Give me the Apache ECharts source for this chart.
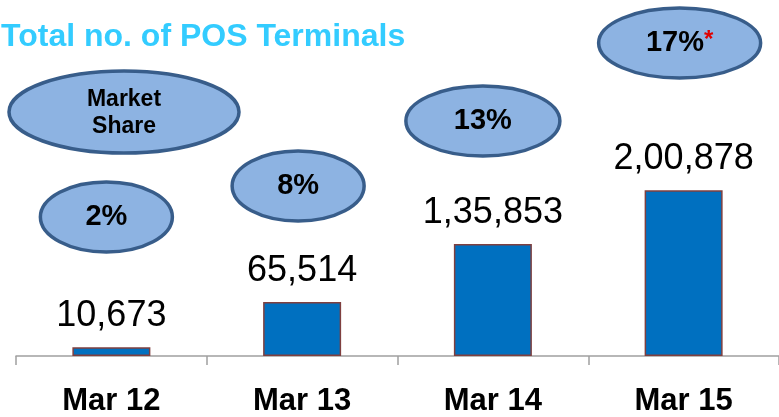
<!DOCTYPE html>
<html>
<head>
<meta charset="utf-8">
<title>Total no. of POS Terminals</title>
<script src="https://cdn.jsdelivr.net/npm/echarts@6/dist/echarts.min.js"></script>
<style>
  html, body { margin: 0; padding: 0; background: #fff; }
  #main { width: 779px; height: 417px; }
</style>
</head>
<body>
<div id="main"></div>
<script type="text/javascript">
// data
var categories = ['Mar 12', 'Mar 13', 'Mar 14', 'Mar 15'];
var terminals = [10673, 65514, 135853, 200878];
var terminalLabels = ['10,673', '65,514', '1,35,853', '2,00,878'];
var marketShare = ['2%', '8%', '13%', '17%'];
var shareNote = ['', '', '', '*'];

// bubble placement (relative to each category centre)
var bubbleLayout = [
    { dx: -5, cy: 217, rx: 66, ry: 35 },
    { dx: -4, cy: 186, rx: 66, ry: 35 },
    { dx: -10, cy: 121, rx: 77, ry: 35 },
    { dx: -4, cy: 43, rx: 81, ry: 35 }
];

var myChart = echarts.init(document.getElementById('main'));

var option = {
    animation: false,
    backgroundColor: '#fff',
    title: {
        text: 'Total no. of POS Terminals',
        left: 1,
        top: 21,
        padding: 0,
        textStyle: {
            color: '#33CCFF',
            fontFamily: 'Liberation Sans, Arial, sans-serif',
            fontWeight: 'bold',
            fontSize: 32
        }
    },
    grid: { left: 16, width: 765, top: 158, bottom: 61 },
    xAxis: {
        type: 'category',
        data: categories,
        axisLine: { lineStyle: { color: '#A0A0A0', width: 1.5 } },
        axisTick: { show: true, length: 9, lineStyle: { color: '#A0A0A0', width: 1.5 } },
        axisLabel: {
            margin: 30,
            color: '#000',
            fontFamily: 'Liberation Sans, Arial, sans-serif',
            fontWeight: 'bold',
            fontSize: 31
        }
    },
    yAxis: {
        type: 'value',
        min: 0,
        max: 240000,
        show: false,
        splitLine: { show: false }
    },
    series: [{
        type: 'bar',
        data: terminals,
        barWidth: 78,
        itemStyle: { color: '#0070C0', borderColor: '#7F3F3F', borderWidth: 1.5 },
        label: {
            show: true,
            position: 'top',
            distance: 13,
            color: '#000',
            fontFamily: 'Liberation Sans, Arial, sans-serif',
            fontSize: 36,
            formatter: function (p) { return terminalLabels[p.dataIndex]; }
        }
    }]
};

myChart.setOption(option);

// market share bubbles
var bubbleStyle = { fill: '#8DB3E2', stroke: '#385D8A', lineWidth: 3.5 };
var graphics = [];

graphics.push({
    type: 'ellipse',
    shape: { cx: 124, cy: 112, rx: 115, ry: 41 },
    style: bubbleStyle
});
graphics.push({
    type: 'text',
    x: 124, y: 113,
    style: {
        text: 'Market\nShare',
        fill: '#000',
        font: 'bold 23px "Liberation Sans", Arial, sans-serif',
        lineHeight: 27,
        align: 'center',
        verticalAlign: 'middle'
    }
});

categories.forEach(function (c, i) {
    var cx = myChart.convertToPixel({ xAxisIndex: 0 }, c) + bubbleLayout[i].dx;
    var b = bubbleLayout[i];
    graphics.push({
        type: 'ellipse',
        shape: { cx: cx, cy: b.cy, rx: b.rx, ry: b.ry },
        style: bubbleStyle
    });
    graphics.push({
        type: 'text',
        x: cx, y: b.cy,
        style: {
            text: '{v|' + marketShare[i] + '}' + (shareNote[i] ? '{n|' + shareNote[i] + '}' : ''),
            align: 'center',
            verticalAlign: 'middle',
            rich: {
                v: { fill: '#000', fontFamily: 'Liberation Sans, Arial, sans-serif', fontWeight: 'bold', fontSize: 29 },
                n: { fill: '#E00000', fontFamily: 'Liberation Sans, Arial, sans-serif', fontWeight: 'bold', fontSize: 24, padding: [0, 0, 5, 0] }
            }
        }
    });
});

myChart.setOption({ graphic: graphics });
</script>
</body>
</html>
